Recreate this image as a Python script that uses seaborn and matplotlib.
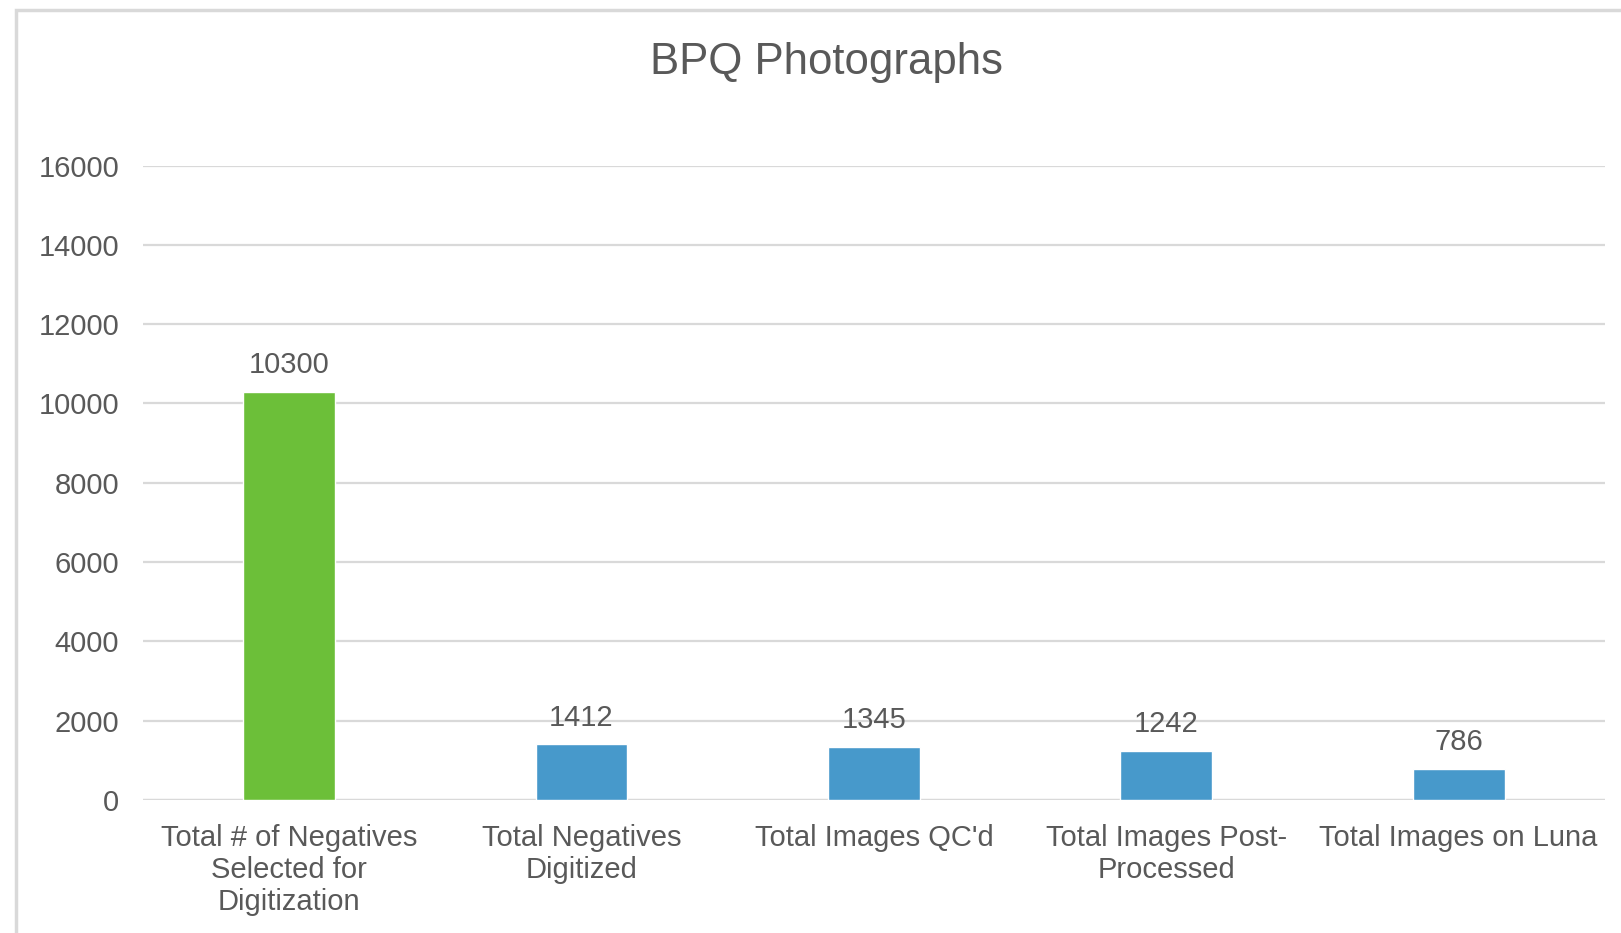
import numpy as np
import pandas as pd
import seaborn as sns
import matplotlib.pyplot as plt
from matplotlib.patches import Rectangle

# Data
categories = ["Total # of Negatives\nSelected for\nDigitization",
              "Total Negatives\nDigitized",
              "Total Images QC'd",
              "Total Images Post-\nProcessed",
              "Total Images on Luna"]
counts = [10300, 1412, 1345, 1242, 786]
bar_colors = ["#6CBF39", "#4799CB", "#4799CB", "#4799CB", "#4799CB"]
y_ticks = [0, 2000, 4000, 6000, 8000, 10000, 12000, 14000, 16000]

text_color = "#595959"
grid_color = "#D9D9D9"

sns.set_style("white")
plt.rcParams['font.family'] = ['Liberation Sans', 'DejaVu Sans']

df = pd.DataFrame({"category": categories, "count": counts})

fig = plt.figure(figsize=(16.21, 9.33), dpi=100)
ax = fig.add_axes([0.0882, 0.1425, 0.9018, 0.6801])

sns.barplot(data=df, x="category", y="count", hue="category",
            palette=bar_colors, width=0.314, legend=False, ax=ax,
            saturation=1, zorder=3)

ax.set_xlim(-0.5, 4.5)
ax.set_ylim(0, 16000)
ax.set_yticks(y_ticks)
ax.set_yticklabels([str(t) for t in y_ticks])
ax.yaxis.grid(True, color=grid_color, linewidth=1.6, zorder=0)
ax.set_axisbelow(True)
for s in ax.spines.values():
    s.set_visible(False)
ax.axhline(0, color=grid_color, linewidth=1.6, zorder=2)

ax.tick_params(axis='y', length=0, pad=17, labelsize=21, labelcolor=text_color)
ax.tick_params(axis='x', length=0, pad=17, labelsize=21, labelcolor=text_color)
for lab in ax.get_xticklabels():
    lab.set_linespacing(1.19)
ax.set_xlabel("")
ax.set_ylabel("")

for cont in ax.containers:
    ax.bar_label(cont, fmt="%d", padding=9, fontsize=21, color=text_color)

fig.text(0.51, 0.9335, "BPQ Photographs", ha="center", va="center",
         fontsize=31.5, color=text_color)

# chart border (left and top visible)
fig.patches.append(Rectangle((16 / 1621, -0.1), 1.2, (933 - 10) / 933 + 0.1,
                             transform=fig.transFigure, fill=False,
                             edgecolor=grid_color, linewidth=2.5))

fig.savefig("out.png", dpi=100)
